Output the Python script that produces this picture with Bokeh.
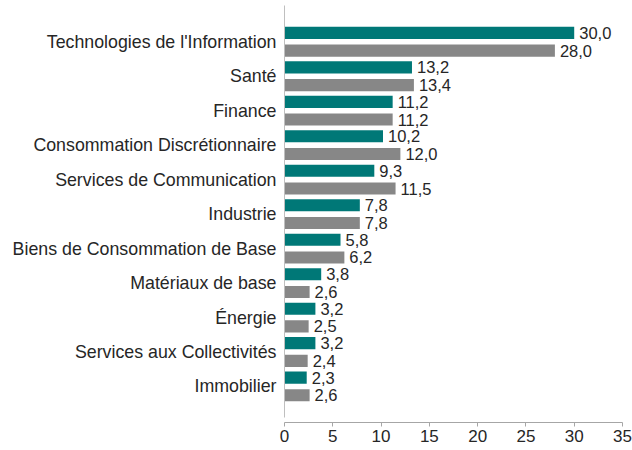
from bokeh.plotting import figure
from bokeh.models import ColumnDataSource, Range1d, FixedTicker, LabelSet
from bokeh.core.properties import value
from bokeh.embed import file_html
from bokeh.resources import INLINE

categories = ["Technologies de l'Information", "Santé", "Finance", "Consommation Discrétionnaire",
              "Services de Communication", "Industrie", "Biens de Consommation de Base",
              "Matériaux de base", "Énergie", "Services aux Collectivités", "Immobilier"]
series_a = [30.0, 13.2, 11.2, 10.2, 9.3, 7.8, 5.8, 3.8, 3.2, 3.2, 2.3]
series_b = [28.0, 13.4, 11.2, 12.0, 11.5, 7.8, 6.2, 2.6, 2.5, 2.4, 2.6]
x_ticks = [0, 5, 10, 15, 20, 25, 30, 35]

TEAL = "#007877"
GREY = "#878787"
n = len(categories)
pos = [n - 1 - i for i in range(n)]
off = 0.257
bh = 0.35

def fmt(v):
    return f"{v:.1f}".replace(".", ",")

src_a = ColumnDataSource(dict(y=[p + off for p in pos], v=series_a, t=[fmt(v) for v in series_a]))
src_b = ColumnDataSource(dict(y=[p - off for p in pos], v=series_b, t=[fmt(v) for v in series_b]))

p = figure(width=632, height=450, output_backend="svg", toolbar_location=None,
           x_range=Range1d(0, 35), y_range=Range1d(-1.045, 11.052),
           min_border_left=284, min_border_right=10, min_border_top=5, min_border_bottom=28)
p.outline_line_color = None
p.grid.visible = False

p.hbar(y="y", right="v", left=0, height=bh, source=src_a, fill_color=TEAL, line_color=None)
p.hbar(y="y", right="v", left=0, height=bh, source=src_b, fill_color=GREY, line_color=None)

for s in (src_a, src_b):
    p.add_layout(LabelSet(x="v", y="y", text="t", source=s, x_offset=5, y_offset=0,
                          text_baseline="middle", text_font=value("Liberation Sans"),
                          text_font_size="16.5px", text_color="#262626"))

p.xaxis.ticker = FixedTicker(ticks=x_ticks)
p.xaxis.axis_line_color = "#a6a6a6"
p.xaxis.major_tick_line_color = "#a6a6a6"
p.xaxis.major_tick_out = 4
p.xaxis.major_tick_in = 0
p.xaxis.minor_tick_line_color = None
p.xaxis.major_label_text_font = "Liberation Sans"
p.xaxis.major_label_text_font_size = "17px"
p.xaxis.major_label_text_color = "#262626"
p.xaxis.major_label_standoff = 3

p.yaxis.ticker = FixedTicker(ticks=pos)
p.yaxis.major_label_overrides = {pos[i]: categories[i] for i in range(n)}
p.yaxis.bounds = (-0.9, 11.052)
p.yaxis.axis_line_color = "#bfbfbf"
p.yaxis.major_tick_line_color = None
p.yaxis.major_tick_out = 0
p.yaxis.major_tick_in = 0
p.yaxis.minor_tick_line_color = None
p.yaxis.major_label_text_font = "Liberation Sans"
p.yaxis.major_label_text_font_size = "17.8px"
p.yaxis.major_label_text_color = "#262626"
p.yaxis.major_label_standoff = 8

open("out.html", "w").write(file_html(p, INLINE))
